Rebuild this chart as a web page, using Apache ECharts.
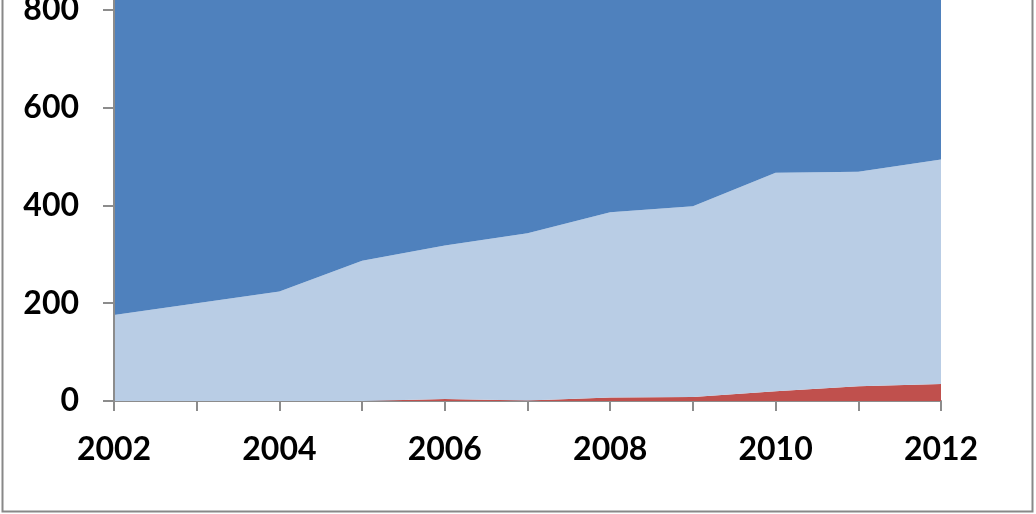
<!DOCTYPE html>
<html><head><meta charset="utf-8">
<script src="https://cdn.jsdelivr.net/npm/echarts@6/dist/echarts.min.js"></script>
<style>html,body{margin:0;padding:0;background:#fff}#c{width:1036px;height:514px}</style>
</head><body><div id="c"></div>
<script>
const years = ['2002','2003','2004','2005','2006','2007','2008','2009','2010','2011','2012'];
const redVals = [0, 0, 0, 0, 4, 1, 7, 8, 20, 30, 35];
const totalVals = [176, 200, 224, 287, 318, 343, 386, 398, 467, 469, 494];
const lightVals = totalVals.map((t, i) => t - redVals[i]);
const darkVals = totalVals.map(t => 1000 - t);
const yTicks = [0, 200, 400, 600, 800];

const chart = echarts.init(document.getElementById('c'));
const font = { fontFamily: 'Lato', fontWeight: 'bold', fontSize: 32, color: '#000' };
const areaSeries = (name, data, color) => ({
  name, type: 'line', stack: 'total', data, symbol: 'none', showSymbol: false,
  lineStyle: { width: 0 }, areaStyle: { color, opacity: 1 }, itemStyle: { color },
  silent: true, animation: false
});
chart.setOption({
  animation: false,
  grid: { left: 114, right: 95, top: 0, bottom: 113, containLabel: false, outerBoundsMode: 'none' },
  xAxis: {
    type: 'category', data: years, boundaryGap: false,
    axisLine: { lineStyle: { color: '#8c8c8c', width: 2 } },
    axisTick: { interval: 0, length: 10, lineStyle: { color: '#8c8c8c', width: 2 } },
    axisLabel: Object.assign({ interval: 1, margin: 33 }, font),
    splitLine: { show: false }
  },
  yAxis: {
    type: 'value', min: 0, max: 820, interval: 200, z: 5,
    axisLine: { show: true, lineStyle: { color: '#8c8c8c', width: 2 } },
    axisTick: { show: true, length: 11, customValues: yTicks, lineStyle: { color: '#8c8c8c', width: 2 } },
    axisLabel: Object.assign({ margin: 35, customValues: yTicks }, font),
    splitLine: { show: false }
  },
  series: [
    areaSeries('red', redVals, '#C0504D'),
    areaSeries('light', lightVals, '#B9CDE5'),
    areaSeries('dark', darkVals, '#4F81BD')
  ],
  graphic: [{
    type: 'rect', silent: true, z: 100,
    shape: { x: 2.5, y: -10, width: 1030, height: 521.5 },
    style: { fill: 'none', stroke: '#888', lineWidth: 2 }
  }]
});
</script></body></html>
